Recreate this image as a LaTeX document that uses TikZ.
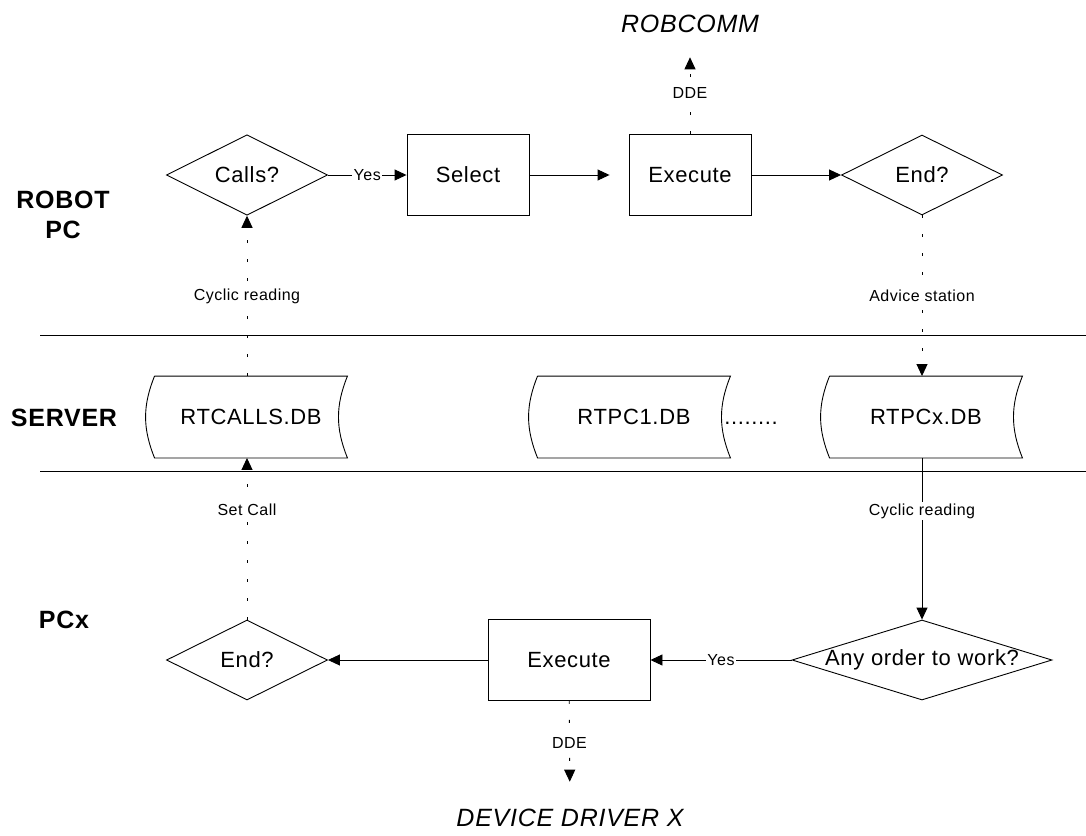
\documentclass[tikz,border=0pt]{standalone}
\usepackage{fontspec}
\setmainfont{Liberation Sans}[LetterSpace=3]
\usepackage{tikz}
\usetikzlibrary{arrows.meta, positioning, shapes.geometric}

\tikzset{
  box/.style={draw, rectangle, minimum width=122pt, minimum height=81pt, font=\fontsize{22}{26}\selectfont},
  decision/.style={draw, diamond, inner sep=0pt, minimum width=161pt, minimum height=80pt, font=\fontsize{22}{26}\selectfont},
  dbfile/.style={minimum width=192pt, minimum height=81pt, font=\fontsize{22}{26}\selectfont},
  lane/.style={font=\bfseries\fontsize{25}{30}\selectfont, align=center},
  ext/.style={inner sep=0pt, font=\itshape\fontsize{25}{30}\selectfont},
  lbl/.style={fill=white, inner sep=1.5pt, font=\fontsize{16}{19}\selectfont},
  flow/.style={-{Triangle[length=12pt,width=11pt]}},
  link/.style={flow, dash pattern=on 3pt off 16pt},
}

\begin{document}
\begin{tikzpicture}[x=1pt, y=-1pt, line width=0.9pt]
  \useasboundingbox (0,0) rectangle (1086,835);

  % lanes
  \node[lane] (robotpc) at (63,215) {ROBOT\\PC};
  \node[lane] (server) at (64,418) {SERVER};
  \node[lane] (pcx) at (64,620) {PCx};
  \draw (40,335) -- (1086,335);
  \draw (40,471) -- (1086,471);

  % robot pc
  \node[decision] (calls) at (247,175) {Calls?};
  \node[box] (select) at (468,175) {Select};
  \node[box] (exectop) at (690,175) {Execute};
  \node[decision] (endtop) at (922,175) {End?};
  \node[ext] (robcomm) at (690,24) {ROBCOMM};

  % server
  \node[dbfile] (rtcalls) at (251,417) {RTCALLS.DB};
  \node[dbfile] (rtpcone) at (634,417) {RTPC1.DB};
  \node[dbfile] (rtpcx) at (926,417) {RTPCx.DB};
  \node[anchor=base, font=\fontsize{22}{26}\selectfont] (dots) at (751,0 |- rtpcone.base) {........};
  \foreach \db in {rtcalls,rtpcone,rtpcx}
    \draw (\db.north west) -- (\db.north east) to[bend right=22] (\db.south east)
      -- (\db.south west) to[bend left=22] (\db.north west);

  % pcx
  \node[decision] (endbot) at (247,660) {End?};
  \node[box, minimum width=162pt] (execbot) at (569,660) {Execute};
  \node[decision, minimum width=260pt] (anyorder) at (922,660) {\makebox[0pt]{Any order to work?}};
  \node[ext] (driver) at (570,818) {DEVICE DRIVER X};

  % connectors
  \draw[flow] (calls) -- node[lbl] {Yes} (select);
  \draw[flow, shorten >=19pt] (select) -- (exectop);
  \draw[flow] (exectop) -- (endtop);
  \draw[link, shorten >=24pt] (exectop) -- node[lbl, pos=0.41] {DDE} (robcomm);
  \draw[link] (endtop) -- node[lbl] {Advice station} (endtop.south |- rtpcx.north);
  \draw[link] (calls.south |- rtcalls.north) -- node[lbl] {Cyclic reading} (calls);
  \draw[flow] (anyorder.north |- rtpcx.south) -- node[lbl, pos=0.33] {Cyclic reading} (anyorder);
  \draw[link] (endbot) -- node[lbl, pos=0.68] {Set Call} (endbot.north |- rtcalls.south);
  \draw[flow] (anyorder) -- node[lbl] {Yes} (execbot);
  \draw[flow] (execbot) -- (endbot);
  \draw[link, shorten >=27pt] (execbot) -- node[lbl, pos=0.39] {DDE} (driver);
\end{tikzpicture}
\end{document}
